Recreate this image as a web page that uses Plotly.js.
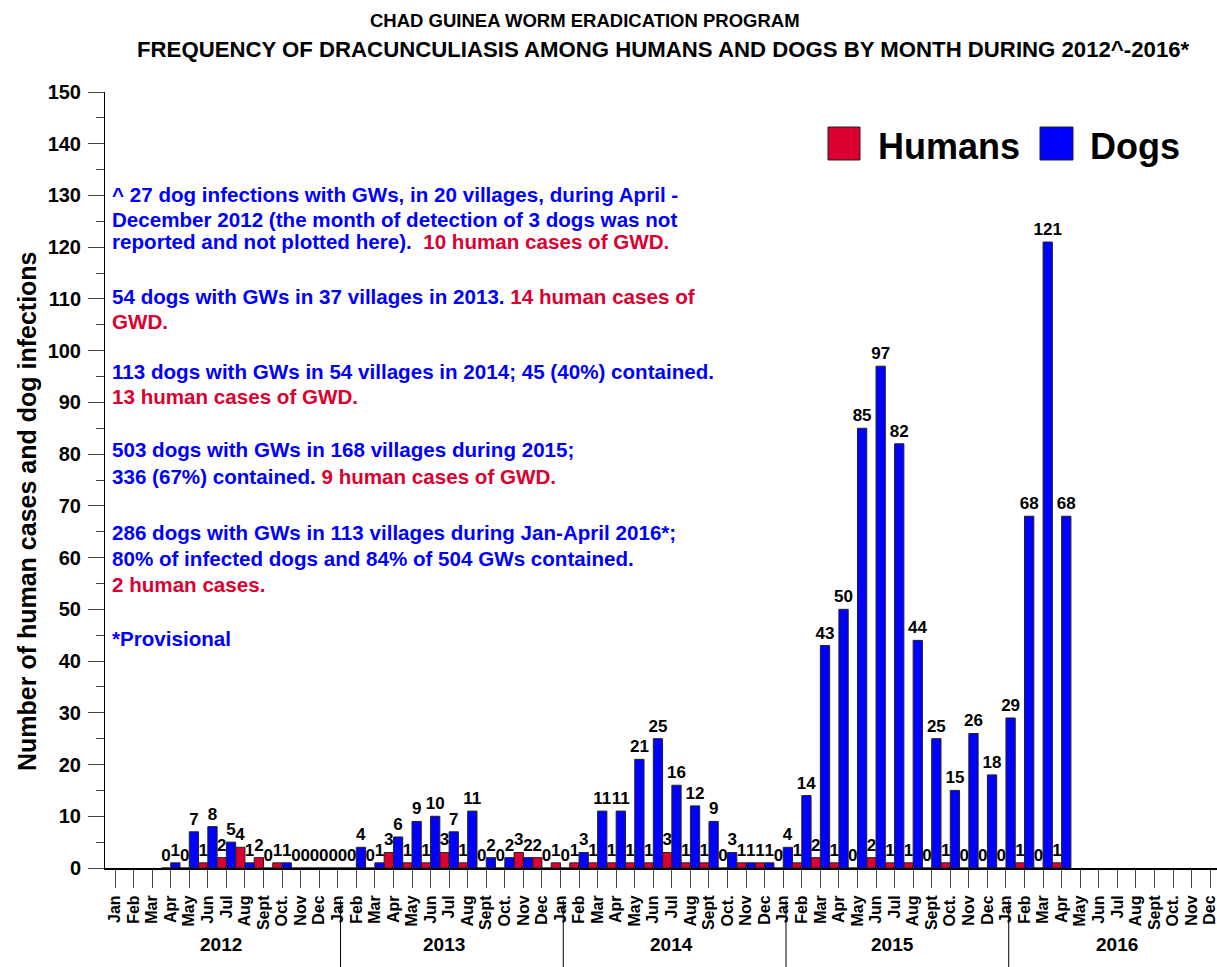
<!DOCTYPE html>
<html>
<head>
<meta charset="utf-8">
<script src="https://cdn.plot.ly/plotly-3.0.1.min.js"></script>
<style>
  html, body { margin: 0; padding: 0; background: #fff; }
  #chart { width: 1217px; height: 967px; }
</style>
</head>
<body>
<div id="chart"></div>
<script>
// ---------------- data ----------------
const months = ['Jan','Feb','Mar','Apr','May','Jun','Jul','Aug','Sept','Oct.','Nov','Dec'];
const years = ['2012','2013','2014','2015','2016'];

const humans2012 = [null,null,null,0,0,1,2,4,2,1,0,0];
const dogs2012   = [null,null,null,1,7,8,5,1,0,1,0,0];
const humans2013 = [0,0,0,3,1,1,3,1,0,0,3,2];
const dogs2013   = [0,4,1,6,9,10,7,11,2,2,2,0];
const humans2014 = [1,1,1,1,1,1,3,1,1,0,1,1];
const dogs2014   = [0,3,11,11,21,25,16,12,9,3,1,1];
const humans2015 = [0,1,2,1,0,2,1,1,0,1,0,0];
const dogs2015   = [4,14,43,50,85,97,82,44,25,15,26,18];
const humans2016 = [0,1,0,1,null,null,null,null,null,null,null,null];
const dogs2016   = [29,68,121,68,null,null,null,null,null,null,null,null];

const titleLine1 = 'CHAD GUINEA WORM ERADICATION PROGRAM';
const titleLine2 = 'FREQUENCY OF DRACUNCULIASIS AMONG HUMANS AND DOGS BY MONTH DURING 2012^-2016*';
const yTitle = 'Number of human cases and dog infections';

// ---------------- build ----------------
const humans = [].concat(humans2012, humans2013, humans2014, humans2015, humans2016);
const dogs = [].concat(dogs2012, dogs2013, dogs2014, dogs2015, dogs2016);
const idx = humans.map((_, i) => i);
const tickText = idx.map(i => months[i % 12]);
const lbl = arr => arr.map(v => v === null ? '' : String(v));

const RED = '#dc0030';
const BLUE = '#0000ff';
const FONT = 'Liberation Sans, Arial, Helvetica, sans-serif';

// pixel helpers (plot area: left 105, right 1217, top 92, bottom 868)
const L = 105, R = 1217, T = 92, B = 868;
const px = x => (x - L) / (R - L);
const py = y => (B - y) / (B - T);

const barCommon = {
  type: 'bar',
  x: idx,
  textposition: 'outside',
  cliponaxis: false,
  constraintext: 'none',
  textfont: {family: FONT, size: 17, color: '#000', weight: 'bold'},
  hoverinfo: 'skip'
};

const traces = [
  Object.assign({}, barCommon, {
    name: 'Humans', y: humans, text: lbl(humans),
    marker: {color: RED, line: {color: '#222', width: 1}}
  }),
  Object.assign({}, barCommon, {
    name: 'Dogs', y: dogs, text: lbl(dogs),
    marker: {color: BLUE, line: {color: '#222', width: 1}}
  })
];

const annotations = [];
function addText(text, x, y, size, color, anchor, angle) {
  annotations.push({
    xref: 'paper', yref: 'paper', x: px(x), y: py(y),
    xanchor: anchor || 'left', yanchor: 'middle', showarrow: false,
    textangle: angle || 0,
    text: text, font: {family: FONT, size: size, color: color || '#000', weight: 'bold'}
  });
}
const b = s => '<span style="color:' + BLUE + '">' + s + '</span>';
const r = s => '<span style="color:' + RED + '">' + s + '</span>';

// titles
addText(titleLine1, 585, 20, 18.5, '#000', 'center');
addText(titleLine2, 663, 50, 22.2, '#000', 'center');

// y axis title
addText(yTitle, 27, 511, 25, '#000', 'center', -90);

// note lines
const TX = 110, TS = 20.6;
addText(b('^ 27 dog infections with GWs, in 20 villages, during April -'), TX, 195, TS);
addText(b('December 2012 (the month of detection of 3 dogs was not'), TX, 219, TS);
addText(b('reported and not plotted here).') + '  ' + r('10 human cases of GWD.'), TX, 242, TS);
addText(b('54 dogs with GWs in 37 villages in 2013.') + ' ' + r('14 human cases of'), TX, 296, TS);
addText(r('GWD.'), TX, 321, TS);
addText(b('113 dogs with GWs in 54 villages in 2014; 45 (40%) contained.'), TX, 371, TS);
addText(r('13 human cases of GWD.'), TX, 396, TS);
addText(b('503 dogs with GWs in 168 villages during 2015;'), TX, 449, TS);
addText(b('336 (67%) contained.') + ' ' + r('9 human cases of GWD.'), TX, 476, TS);
addText(b('286 dogs with GWs in 113 villages during Jan-April 2016*;'), TX, 532, TS);
addText(b('80% of infected dogs and 84% of 504 GWs contained.'), TX, 558, TS);
addText(r('2 human cases.'), TX, 584, TS);
addText(b('*Provisional'), TX, 638, TS);

// legend text
addText('Humans', 876, 147, 36, '#000', 'left');
addText('Dogs', 1088, 147, 36, '#000', 'left');

// year labels (x positions in category units)
const yearPos = [5.7, 17.7, 30.0, 41.9, 54.0];
years.forEach((yr, i) => {
  annotations.push({
    xref: 'x', yref: 'paper', x: yearPos[i], y: py(944),
    xanchor: 'center', yanchor: 'middle', showarrow: false,
    text: yr, font: {family: FONT, size: 19, color: '#000', weight: 'bold'}
  });
});

const shapes = [
  {type: 'rect', xref: 'paper', yref: 'paper', x0: px(828), x1: px(860), y0: py(160), y1: py(127),
   fillcolor: RED, line: {color: '#222', width: 1}},
  {type: 'rect', xref: 'paper', yref: 'paper', x0: px(1040), x1: px(1073), y0: py(160), y1: py(127),
   fillcolor: BLUE, line: {color: '#222', width: 1}}
];
// year separators at January ticks
[12, 24, 36, 48].forEach(j => {
  shapes.push({type: 'line', xref: 'x', yref: 'paper', x0: j + 0.15, x1: j + 0.15,
    y0: py(900), y1: py(967), line: {color: '#000', width: 1}});
});

const layout = {
  width: 1217, height: 967,
  margin: {l: L, r: 1217 - R, t: T, b: 967 - B, pad: 0},
  paper_bgcolor: '#fff', plot_bgcolor: '#fff',
  showlegend: false,
  barmode: 'group', bargap: 0, bargroupgap: 0,
  font: {family: FONT, color: '#000'},
  xaxis: {
    range: [-0.54, 59.37],
    tickmode: 'array', tickvals: idx, ticktext: tickText, tickangle: -90,
    ticks: 'outside', ticklen: 18, tickwidth: 1, tickcolor: '#444',
    ticklabelstandoff: 1, ticklabeloverflow: 'allow',
    tickfont: {family: FONT, size: 16, color: '#000', weight: 'bold'},
    showline: true, linecolor: '#000', linewidth: 2,
    showgrid: false, zeroline: false, fixedrange: true
  },
  yaxis: {
    range: [0, 150], dtick: 10, tick0: 0,
    ticks: 'outside', ticklen: 16, tickwidth: 1, tickcolor: '#444',
    minor: {dtick: 5, ticks: 'outside', ticklen: 8, tickcolor: '#444', showgrid: false},
    ticklabelstandoff: 3,
    tickfont: {family: FONT, size: 20, color: '#000', weight: 'bold'},
    showline: true, linecolor: '#000', linewidth: 1,
    showgrid: false, zeroline: false, fixedrange: true
  },
  annotations: annotations,
  shapes: shapes
};

Plotly.newPlot('chart', traces, layout, {displayModeBar: false, staticPlot: true});
</script>
</body>
</html>
